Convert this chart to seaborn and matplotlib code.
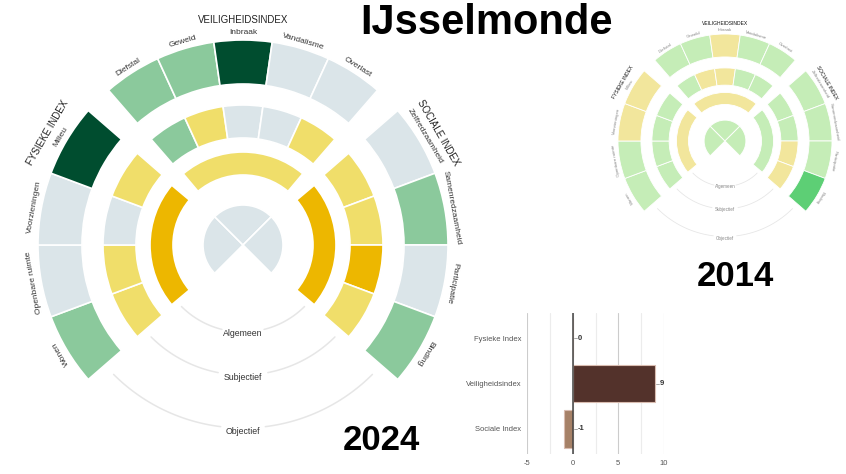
import numpy as np
import matplotlib
matplotlib.use("Agg")
import matplotlib.pyplot as plt
import seaborn as sns

# data
title = "IJsselmonde"
groups = ["FYSIEKE INDEX", "VEILIGHEIDSINDEX", "SOCIALE INDEX"]
fysiek_items = ["Wonen", "Openbare ruimte", "Voorzieningen", "Milieu"]
veilig_items = ["Diefstal", "Geweld", "Inbraak", "Vandalisme", "Overlast"]
sociaal_items = ["Zelfredzaamheid", "Samenredzaamheid", "Participatie", "Binding"]
levels = ["Algemeen", "Subjectief", "Objectief"]

# scores: -2 veel slechter .. 2 veel beter
obj_2024 = [[1, 0, 0, 2], [1, 1, 2, 0, 0], [0, 1, 0, 1]]
subj_2024 = [[-1, -1, 0, -1], [1, -1, 0, 0, -1], [-1, -1, -2, -1]]
alg_2024 = [-2, -1, -2]
kern_2024 = [0, 0, 0]

obj_2014 = [[0, 0, -1, -1], [0, 0, -1, 0, 0], [0, 0, 0, 1]]
subj_2014 = [[0, 0, 0, 0], [0, -1, -1, 0, 0], [0, 0, -1, -1]]
alg_2014 = [-1, -1, 0]
kern_2014 = [0, 0, 0]

kleuren_2024 = {-2: "#edb700", -1: "#f0de6a", 0: "#dbe5e9", 1: "#8bc99c", 2: "#004d2f"}
kleuren_2014 = {-1: "#f2e69c", 0: "#c5edb7", 1: "#5dcf75"}

bar_labels = ["Fysieke Index", "Veiligheidsindex", "Sociale Index"]
bar_values = [0, 9, -1]
bar_colors = ["#a8755a", "#5a2d24", "#b07f5c"]

sns.set_style("white")
plt.rcParams["font.family"] = ["Liberation Sans", "DejaVu Sans"]
plt.rcParams["axes.unicode_minus"] = False

W, H = 846, 474
fig = plt.figure(figsize=(W / 100, H / 100), dpi=100)


def wheel(ax, obj, subj, alg, kern, kleuren, s, txt_col, head_col):
    ax.set_theta_zero_location("N")
    ax.set_theta_direction(-1)
    ax.set_facecolor("none")
    items = [fysiek_items, veilig_items, sociaal_items]
    starts = [-135, -45, 45]
    lw = 1.2 * s
    for g in range(3):
        mid = starts[g] + 45
        ax.bar(np.deg2rad(mid), 40, width=np.deg2rad(90), bottom=0,
               color=kleuren[kern[g]], edgecolor="white", linewidth=lw)
        ax.bar(np.deg2rad(mid), 23, width=np.deg2rad(80), bottom=70,
               color=kleuren[alg[g]], edgecolor="white", linewidth=lw)
        n = len(items[g])
        pad = 4
        w = (90 - 2 * pad) / n
        for i in range(n):
            th = starts[g] + pad + w * (i + 0.5)
            ax.bar(np.deg2rad(th), 33, width=np.deg2rad(w), bottom=107,
                   color=kleuren[subj[g][i]], edgecolor="white", linewidth=lw)
            ax.bar(np.deg2rad(th), 44, width=np.deg2rad(w), bottom=161,
                   color=kleuren[obj[g][i]], edgecolor="white", linewidth=lw)
            ax.text(np.deg2rad(th), 212, items[g][i], rotation=-th,
                    rotation_mode="anchor", ha="center", va="center",
                    fontsize=6 * s, color=txt_col)
    for phi, name in zip([-60, 0, 60], groups):
        ax.text(np.deg2rad(phi), 225, name, rotation=-phi, rotation_mode="anchor",
                ha="center", va="center", fontsize=7 * s, color=head_col)
    for r_line, r_txt, gap, name in zip([87, 130, 183], [88, 132, 187], [14, 11, 7], levels):
        for a0, a1 in [(135, 180 - gap), (180 + gap, 225)]:
            t = np.deg2rad(np.linspace(a0, a1, 80))
            ax.plot(t, np.full_like(t, r_line), color="#e6e6e6", lw=1.1 * s)
        ax.text(np.pi, r_txt, name, ha="center", va="center",
                fontsize=6.3 * s, color=txt_col)
    ax.set_ylim(0, 230)
    ax.set_axis_off()


# 2024 wheel
cx, cy, R = 243, 245, 230
ax1 = fig.add_axes([(cx - R) / W, (H - cy - R) / H, 2 * R / W, 2 * R / H], projection="polar")
wheel(ax1, obj_2024, subj_2024, alg_2024, kern_2024, kleuren_2024, 1.0, "#333333", "#222222")

# 2014 wheel
s = 0.522
cx, cy, R = 725, 141, 230 * s
ax2 = fig.add_axes([(cx - R) / W, (H - cy - R) / H, 2 * R / W, 2 * R / H], projection="polar")
wheel(ax2, obj_2014, subj_2014, alg_2014, kern_2014, kleuren_2014, s, "#888888", "#111111")

# bar chart
ax3 = fig.add_axes([527 / W, (H - 454) / H, 137 / W, 141 / H])
sns.barplot(x=bar_values, y=bar_labels, hue=bar_labels, palette=bar_colors,
            legend=False, orient="h", width=0.82, edgecolor="#d9bcb0",
            linewidth=0.8, ax=ax3)
ax3.set_xlim(-5, 10)
ax3.set_xticks([-5, 0, 5, 10])
ax3.set_xticks([-2.5, 2.5, 7.5], minor=True)
ax3.grid(axis="x", which="major", color="#cccccc", lw=0.8)
ax3.grid(axis="x", which="minor", color="#ececec", lw=0.8)
ax3.set_axisbelow(True)
ax3.axvline(0, color="#444444", lw=1.1)
for sp in ax3.spines.values():
    sp.set_visible(False)
ax3.tick_params(axis="both", which="both", length=0, labelsize=5.5, labelcolor="#555555", pad=4)
ax3.set_xlabel("")
ax3.set_ylabel("")
for i, v in enumerate(bar_values):
    e = max(v, 0)
    ax3.plot([e + 0.1, e + 0.5], [i, i], color="#999999", lw=0.6)
    ax3.text(e + 0.55, i, str(v), ha="left", va="center", fontsize=5.5,
             fontweight="bold", color="#333333")

# titles
fig.text(486 / W, 1 - 23 / H, title, ha="center", va="center", fontsize=30,
         fontweight="bold", color="black")
fig.text(381 / W, 1 - 440 / H, "2024", ha="center", va="center", fontsize=25,
         fontweight="bold", color="black")
fig.text(735 / W, 1 - 277 / H, "2014", ha="center", va="center", fontsize=25,
         fontweight="bold", color="black")

fig.savefig("out.png", dpi=100)
